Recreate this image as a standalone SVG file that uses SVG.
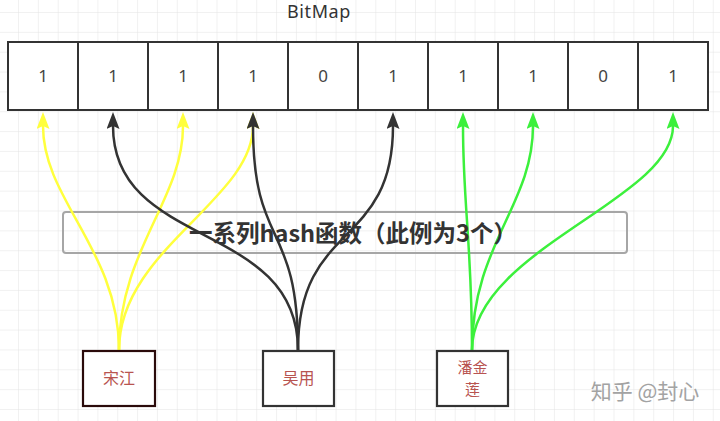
<svg xmlns="http://www.w3.org/2000/svg" width="720" height="421" viewBox="0 0 720 421">
<defs>
<pattern id="grid" x="18" y="12" width="19.85" height="19.85" patternUnits="userSpaceOnUse">
<path d="M0,0 H19.85 M0,0 V19.85" fill="none" stroke="#e3e3e3" stroke-width="1"/>
</pattern>
<marker id="ay" viewBox="0 0 17 13" markerWidth="17" markerHeight="13" refX="3" refY="6.5" orient="auto" markerUnits="userSpaceOnUse"><path d="M0,0 L17,6.5 L0,13 L3,6.5 z" fill="#ffff3d"/></marker>
<marker id="ak" viewBox="0 0 17 13" markerWidth="17" markerHeight="13" refX="3" refY="6.5" orient="auto" markerUnits="userSpaceOnUse"><path d="M0,0 L17,6.5 L0,13 L3,6.5 z" fill="#333333"/></marker>
<marker id="ag" viewBox="0 0 17 13" markerWidth="17" markerHeight="13" refX="3" refY="6.5" orient="auto" markerUnits="userSpaceOnUse"><path d="M0,0 L17,6.5 L0,13 L3,6.5 z" fill="#3cf03c"/></marker>
<style>
.cell{fill:#ffffff;stroke:#333333;stroke-width:2}
.num{font-family:"Noto Sans","Liberation Sans",sans-serif;font-size:17px;fill:#444444;text-anchor:middle}
.node{fill:#ffffff;stroke:#333333;stroke-width:2.2}
.name{font-family:"Noto Sans CJK SC",sans-serif;font-size:16px;fill:#b85450;text-anchor:middle}
.y{fill:none;stroke:#ffff3d;stroke-width:2.5;marker-end:url(#ay)}
.k{fill:none;stroke:#333333;stroke-width:2.5;marker-end:url(#ak)}
.g{fill:none;stroke:#3cf03c;stroke-width:2.5;marker-end:url(#ag)}
</style>
</defs>
<rect width="720" height="421" fill="#ffffff"/>
<rect width="720" height="421" fill="url(#grid)"/>
<text x="319" y="18" font-family="'Noto Sans','Liberation Sans',sans-serif" font-size="18" letter-spacing="0.6" fill="#333333" text-anchor="middle">BitMap</text>
<g id="bitmap">
<g id="cell0"><rect class="cell" x="8" y="42" width="70" height="68"/><text class="num" x="43" y="82">1</text></g>
<g id="cell1"><rect class="cell" x="78" y="42" width="70" height="68"/><text class="num" x="113" y="82">1</text></g>
<g id="cell2"><rect class="cell" x="148" y="42" width="70" height="68"/><text class="num" x="183" y="82">1</text></g>
<g id="cell3"><rect class="cell" x="218" y="42" width="70" height="68"/><text class="num" x="253" y="82">1</text></g>
<g id="cell4"><rect class="cell" x="288" y="42" width="70" height="68"/><text class="num" x="323" y="82">0</text></g>
<g id="cell5"><rect class="cell" x="358" y="42" width="70" height="68"/><text class="num" x="393" y="82">1</text></g>
<g id="cell6"><rect class="cell" x="428" y="42" width="70" height="68"/><text class="num" x="463" y="82">1</text></g>
<g id="cell7"><rect class="cell" x="498" y="42" width="70" height="68"/><text class="num" x="533" y="82">1</text></g>
<g id="cell8"><rect class="cell" x="568" y="42" width="70" height="68"/><text class="num" x="603" y="82">0</text></g>
<g id="cell9"><rect class="cell" x="638" y="42" width="70" height="68"/><text class="num" x="673" y="82">1</text></g>
</g>
<g id="hashbox-frame"><rect x="63" y="212" width="564" height="41" rx="3" fill="none" stroke="#a6a6a6" stroke-width="2"/></g>
<g id="connectors">
<path class="y" d="M119,350 C119,250 43,200 43,126"/>
<path class="y" d="M119,350 C119,250 183,200 183,126"/>
<path class="y" d="M119,350 C119,250 253,200 253,126"/>
<path class="k" d="M298,350 C298,220 113,250 113,126"/>
<path class="k" d="M298,350 C298,220 253,250 253,126"/>
<path class="k" d="M298,350 C298,220 393,250 393,126"/>
<path class="g" d="M472,350 C472,245 463,205 463,126"/>
<path class="g" d="M472,350 C472,245 533,205 533,126"/>
<path class="g" d="M472,350 C472,250 673,200 673,126"/>
</g>
<g id="hash">
<text x="353" y="242" font-family="'Noto Sans CJK SC',sans-serif" font-size="23.5" font-weight="bold" fill="#333333" text-anchor="middle">一系列hash函数（此例为3个）</text>
</g>
<g id="songjiang"><rect class="node" x="83" y="351" width="72" height="55" style="stroke:#2a0a0a"/><text class="name" x="119" y="384">宋江</text></g>
<g id="wuyong"><rect class="node" x="263" y="351" width="71" height="55"/><text class="name" x="298.5" y="384">吴用</text></g>
<g id="panjinlian"><rect class="node" x="437" y="351" width="71" height="55"/><text class="name" x="472.5" y="373" style="font-size:15px">潘金</text><text class="name" x="472.5" y="395" style="font-size:15px">莲</text></g>
<text x="645" y="399" font-family="'Noto Sans CJK SC',sans-serif" font-size="21" fill="#a3a3a3" text-anchor="middle">知乎 @封心</text>
</svg>
